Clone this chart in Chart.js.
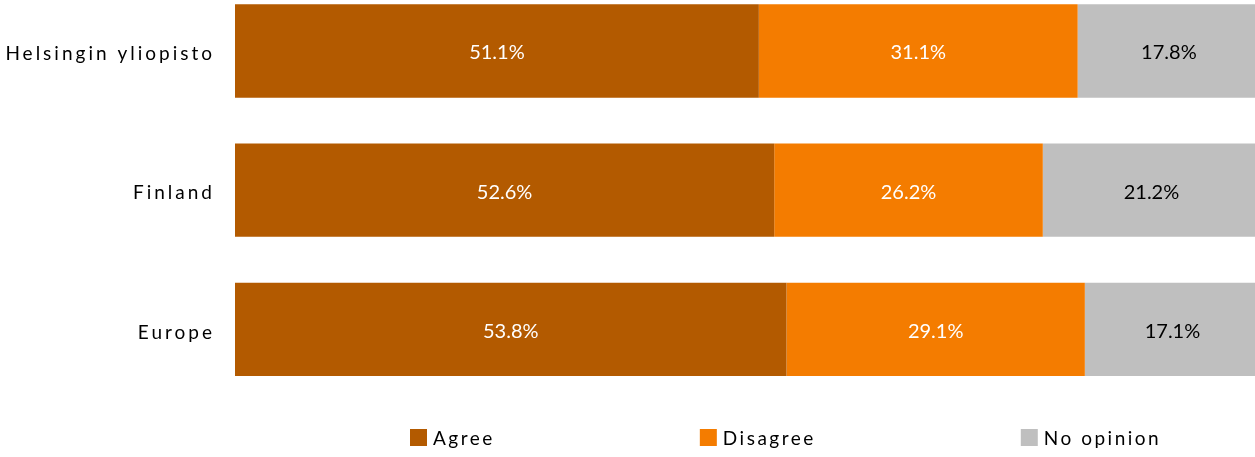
<!DOCTYPE html>
<html>
<head>
<meta charset="utf-8">
<script src="https://cdn.jsdelivr.net/npm/chart.js@4"></script>
<style>
  html, body { margin: 0; padding: 0; background: #fff; }
  #wrap { width: 1255px; height: 457px; overflow: hidden; position: relative; }
  #surveyChart { display: block; position: absolute; left: 0; top: -50px; }
</style>
</head>
<body>
<div id="wrap"><canvas id="surveyChart" width="1255" height="507"></canvas></div>
<script>
// categories and shares (%)
const categories = ['Helsingin yliopisto', 'Finland', 'Europe'];
const agree = [51.1, 52.6, 53.8];
const disagree = [31.1, 26.2, 29.1];
const noOpinion = [17.8, 21.2, 17.1];

const seriesNames = ['Agree', 'Disagree', 'No opinion'];
const colors = ['#B35A00', '#F47C00', '#BFBFBF'];
const labelColors = ['#ffffff', '#ffffff', '#000000'];

const fontFamily = 'Lato, "Open Sans", sans-serif';

// labels in the middle of each segment
const valueLabels = {
    id: 'valueLabels',
    afterDatasetsDraw(chart) {
        const ctx = chart.ctx;
        ctx.save();
        ctx.letterSpacing = '0px';
        ctx.font = '20px ' + fontFamily;
        ctx.textAlign = 'center';
        ctx.textBaseline = 'middle';
        chart.data.datasets.forEach((ds, i) => {
            chart.getDatasetMeta(i).data.forEach((bar, j) => {
                const p = bar.getProps(['x', 'y', 'base'], true);
                ctx.fillStyle = labelColors[i];
                ctx.fillText(ds.data[j].toFixed(1) + '%', (p.x + p.base) / 2, p.y + 2);
            });
        });
        ctx.restore();
    }
};

// legend under the plot, spaced like the original
const bottomLegend = {
    id: 'bottomLegend',
    afterDraw(chart) {
        const ctx = chart.ctx;
        ctx.save();
        ctx.font = '19px ' + fontFamily;
        ctx.letterSpacing = '2.5px';
        ctx.textBaseline = 'middle';
        ctx.textAlign = 'left';
        let x = 410;
        const y = 487.5;   // canvas sits 50px above the page top
        chart.data.datasets.forEach(ds => {
            ctx.fillStyle = ds.backgroundColor;
            ctx.fillRect(x, y - 8.5, 17, 17);
            ctx.fillStyle = '#000';
            ctx.fillText(ds.label, x + 23, y + 1);
            x += 23 + ctx.measureText(ds.label).width + 205;
        });
        ctx.restore();
    }
};

// spaced-out axis labels
const spacing = {
    id: 'spacing',
    beforeDraw(chart) {
        chart.ctx.letterSpacing = '3px';
    }
};

const ctx = document.getElementById('surveyChart').getContext('2d');
new Chart(ctx, {
    type: 'bar',
    data: {
        labels: categories,
        datasets: [
            { label: seriesNames[0], data: agree, backgroundColor: colors[0] },
            { label: seriesNames[1], data: disagree, backgroundColor: colors[1] },
            { label: seriesNames[2], data: noOpinion, backgroundColor: colors[2] }
        ]
    },
    options: {
        indexAxis: 'y',
        responsive: false,
        animation: false,
        devicePixelRatio: 1,
        layout: {
            padding: { top: 0, bottom: 58, left: 0, right: 0 }
        },
        datasets: {
            bar: { categoryPercentage: 1, barPercentage: 0.67 }
        },
        scales: {
            x: {
                stacked: true,
                display: false,
                min: 0,
                max: 99.5
            },
            y: {
                stacked: true,
                grid: { display: false, drawTicks: false },
                border: { display: false },
                afterFit: function (scale) {
                    scale.width = 235;
                },
                ticks: {
                    padding: 20,
                    labelOffset: 3,
                    color: '#000',
                    font: { family: fontFamily, size: 19 }
                }
            }
        },
        plugins: {
            legend: { display: false },
            tooltip: { enabled: false }
        }
    },
    plugins: [spacing, valueLabels, bottomLegend]
});
</script>
</body>
</html>
